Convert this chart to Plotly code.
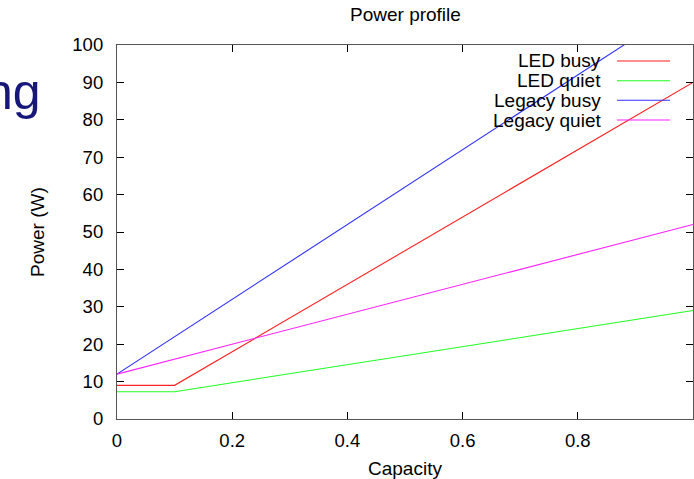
import plotly.graph_objects as go

# ---- data ----
capacity = [0, 0.1, 1]
led_busy = [9, 9, 90]
led_quiet = [7.3, 7.3, 29]
legacy_capacity = [0, 1]
legacy_busy = [12, 112]
legacy_quiet = [12, 52]

series_names = ["LED busy", "LED quiet", "Legacy busy", "Legacy quiet"]
series_colors = ["#ff2020", "#20ff20", "#3030ff", "#ff20ff"]
x_ticks = [0, 0.2, 0.4, 0.6, 0.8, 1]
x_tick_text = ["0", "0.2", "0.4", "0.6", "0.8", ""]
y_ticks = list(range(0, 101, 10))

W, H = 694, 479
L, R, T, B = 117, 1, 45, 60
PW, PH = W - L - R, H - T - B
FONT = "Liberation Sans, Arial, sans-serif"


def px(x):
    return (x - L) / PW


def py(y):
    return 1 - (y - T) / PH


fig = go.Figure()
xs = [capacity, capacity, legacy_capacity, legacy_capacity]
ys = [led_busy, led_quiet, legacy_busy, legacy_quiet]
for name, color, xv, yv in zip(series_names, series_colors, xs, ys):
    fig.add_trace(go.Scatter(x=xv, y=yv, mode="lines", name=name,
                             line=dict(color=color, width=1.1),
                             showlegend=False))

axis_common = dict(showgrid=False, zeroline=False, showline=True,
                   linecolor="#555555", linewidth=1.2, mirror="ticks",
                   ticks="inside", ticklen=7, tickcolor="#000000",
                   tickwidth=1,
                   tickfont=dict(family=FONT, size=18.5, color="#000000"))

fig.update_xaxes(range=[0, 1], tickvals=x_ticks, ticktext=x_tick_text,
                 ticklabelstandoff=5, **axis_common)
fig.update_yaxes(range=[0, 100], tickvals=y_ticks,
                 ticklabelstandoff=9, **axis_common)

annotations = [
    dict(text="Power profile", x=0.5, y=py(15), xref="paper", yref="paper",
         xanchor="center", yanchor="middle", showarrow=False,
         font=dict(family=FONT, size=19, color="#000000")),
    dict(text="Capacity", x=px(405), y=py(468), xref="paper", yref="paper",
         xanchor="center", yanchor="middle", showarrow=False,
         font=dict(family=FONT, size=19, color="#000000")),
    dict(text="Power (W)", x=px(37), y=py(232), xref="paper", yref="paper",
         xanchor="center", yanchor="middle", showarrow=False, textangle=-90,
         font=dict(family=FONT, size=19, color="#000000")),
    dict(text="ng", x=px(43), y=py(92), xref="paper", yref="paper",
         xanchor="right", yanchor="middle", showarrow=False,
         font=dict(family=FONT, size=50, color="#17177a")),
]

shapes = []
legend_rows = [61, 80.7, 100.3, 120]
for name, color, ry in zip(series_names, series_colors, legend_rows):
    annotations.append(dict(text=name, x=px(603), y=py(ry), xref="paper",
                            yref="paper", xanchor="right", yanchor="middle",
                            showarrow=False,
                            font=dict(family=FONT, size=19, color="#000000")))
    shapes.append(dict(type="line", xref="paper", yref="paper",
                       x0=px(617), x1=px(670), y0=py(ry), y1=py(ry),
                       line=dict(color=color, width=1.1)))

fig.update_layout(width=W, height=H,
                  margin=dict(l=L, r=R, t=T, b=B, pad=0),
                  paper_bgcolor="white", plot_bgcolor="white",
                  annotations=annotations, shapes=shapes,
                  showlegend=False)

fig.write_html("out.html")
